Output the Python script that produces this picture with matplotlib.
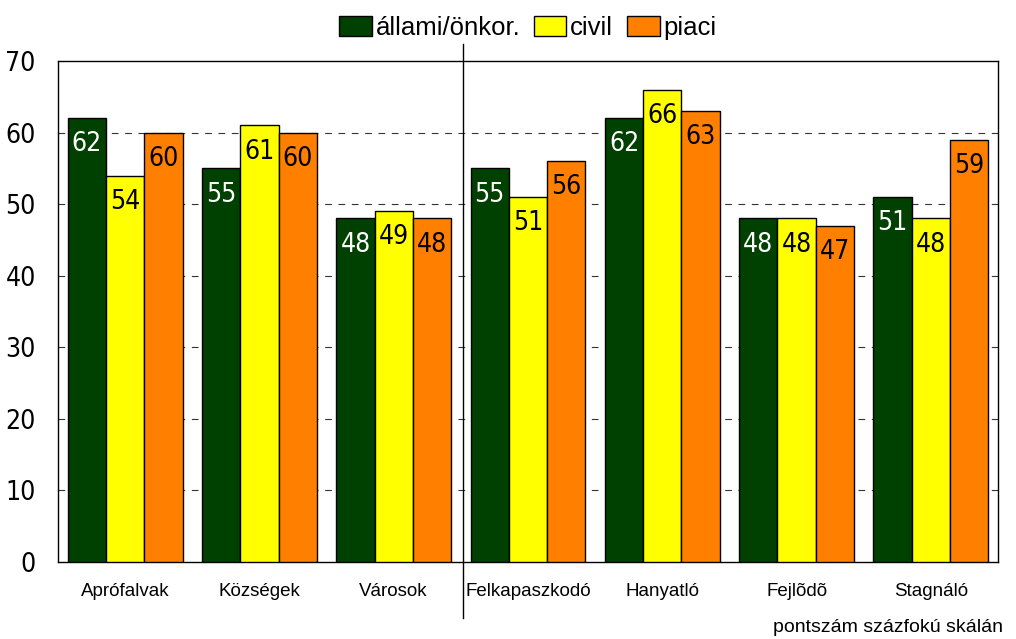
import matplotlib.pyplot as plt
import numpy as np
from matplotlib.lines import Line2D

categories = ['Aprófalvak', 'Községek', 'Városok', 'Felkapaszkodó', 'Hanyatló', 'Fejlõdõ', 'Stagnáló']
allami = [62, 55, 48, 55, 62, 48, 51]
civil = [54, 61, 49, 51, 66, 48, 48]
piaci = [60, 60, 48, 56, 63, 47, 59]
series_names = ['állami/önkor.', 'civil', 'piaci']
colors = ['#004000', '#FFFF00', '#FF8000']
label_colors = ['white', 'black', 'black']

plt.rcParams['font.family'] = ['Liberation Sans', 'DejaVu Sans']
narrow = dict(family=['DejaVu Sans'], stretch='condensed')

fig = plt.figure(figsize=(10.16, 6.39), dpi=100)
ax = fig.add_axes([58 / 1016, 1 - 562 / 639, 940 / 1016, 501 / 639])

x = np.arange(len(categories))
w = 0.285
for i, (vals, name) in enumerate(zip([allami, civil, piaci], series_names)):
    pos = x + (i - 1) * w
    bars = ax.bar(pos, vals, w, color=colors[i], edgecolor='black', linewidth=1, label=name, zorder=3)
    for b, v in zip(bars, vals):
        ax.annotate(str(v), (b.get_x() + b.get_width() / 2, v), xytext=(0, -9.5),
                    textcoords='offset points', ha='center', va='top',
                    fontsize=19, color=label_colors[i], zorder=4, **narrow)

ax.set_xlim(-0.5, len(categories) - 0.5)
ax.set_ylim(0, 70)
ax.set_yticks(range(0, 71, 10))
ax.set_yticklabels([str(v) for v in range(0, 71, 10)], fontsize=19, **narrow)
ax.tick_params(axis='y', length=0, pad=16)
ax.set_xticks(x)
ax.set_xticklabels(categories, fontsize=13.5)
ax.tick_params(axis='x', length=0, pad=15)
for y in range(10, 70, 10):
    ax.axhline(y, color='#333333', linestyle=(0, (6, 6)), linewidth=0.8, zorder=1)
for s in ax.spines.values():
    s.set_linewidth(1)

# separator between settlement types and development groups
fig.add_artist(Line2D([463 / 1016, 463 / 1016], [1 - 618 / 639, 1 - 44 / 639],
                      color='black', linewidth=1))

ax.legend(loc='center', bbox_to_anchor=(0.5, 1 + 33 / 501), ncol=3, frameon=False,
          handlelength=1.25, handleheight=0.8, handletextpad=0.15,
          columnspacing=0.55, borderaxespad=0,
          prop={'family': ['Liberation Sans', 'DejaVu Sans'], 'size': 18.5})

fig.text(1003 / 1016, 1 - 627 / 639, 'pontszám százfokú skálán', ha='right', va='center',
         fontsize=14)

fig.savefig('out.png', dpi=100)
